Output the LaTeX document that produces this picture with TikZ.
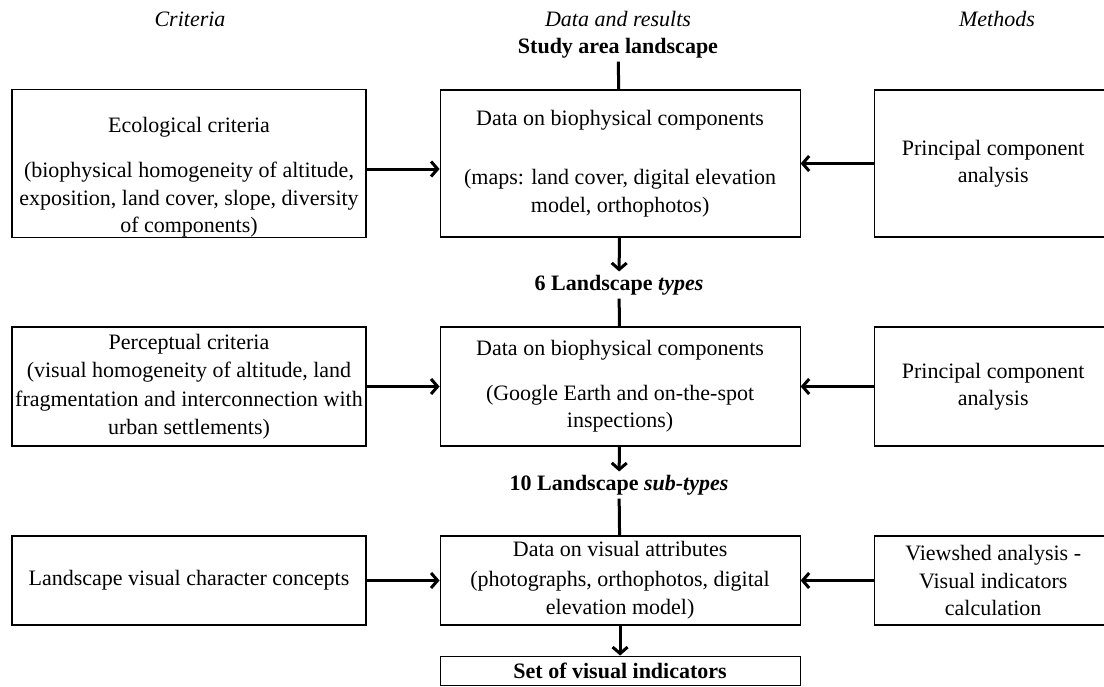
\documentclass[tikz,border=0pt]{standalone}
\usepackage{fontspec}
\setmainfont{Liberation Serif}
\usetikzlibrary{arrows.meta,positioning}

\tikzset{
    box/.style={draw, line width=1.1pt, align=center, inner sep=0pt,
        font=\fontsize{22}{27.5}\selectfont},
    critbox/.style={box, minimum width=354pt},
    databox/.style={box, minimum width=360pt},
    methbox/.style={box, minimum width=238pt},
    colhead/.style={font=\fontsize{22}{26}\selectfont\itshape},
    result/.style={font=\fontsize{22}{26}\selectfont\bfseries},
    flow/.style={line width=3pt, -{Straight Barb[length=6.5pt,width=15pt]}},
    link/.style={line width=3pt},
}

\begin{document}
\begin{tikzpicture}[x=1pt, y=-1pt]
    \useasboundingbox (0,0) rectangle (1104,686) ;

    \node[colhead] (crithead) at (190,19) {Criteria} ;
    \node[colhead] (datahead) at (618,19) {Data and results} ;
    \node[colhead] (methhead) at (997,19) {Methods} ;
    \node[result] (study) at (618,48) {Study area landscape} ;

    \node[critbox, minimum height=147pt] (ecol) at (189,163.5)
        {\rule{0pt}{43pt}Ecological criteria\\[18pt](biophysical homogeneity of altitude,\\exposition, land cover, slope, diversity\\of components)} ;
    \node[databox, minimum height=147pt, right = 73pt of ecol] (biophys)
        {Data on biophysical components\\[32pt](maps: land cover, digital elevation\\model, orthophotos)} ;
    \node[methbox, minimum height=147pt, right = 73pt of biophys] (pcaone)
        {Principal component\\analysis} ;
    \draw[flow] ([yshift=-5.5pt]ecol.east) -- ([yshift=-5.5pt]biophys.west) ;
    \draw[flow] (pcaone) -- (biophys) ;
    \draw[link] (study) -- (biophys) ;

    \node[result] (types) at (619,285) {6 Landscape \textit{types}} ;
    \draw[flow] (biophys) -- (types) ;

    \node[critbox, minimum height=119pt] (percep) at (189,386.5)
        {Perceptual criteria\\[1pt](visual homogeneity of altitude, land\\[1pt]fragmentation and interconnection with\\[1pt]urban settlements)} ;
    \node[databox, minimum height=119pt, right = 73pt of percep] (onspot)
        {Data on biophysical components\\[17pt](Google Earth and on-the-spot\\inspections)} ;
    \node[methbox, minimum height=119pt, right = 73pt of onspot] (pcatwo)
        {Principal component\\analysis} ;
    \draw[flow] (percep) -- (onspot) ;
    \draw[flow] (pcatwo) -- (onspot) ;
    \draw[link] (types) -- (onspot) ;

    \node[result] (subtypes) at (619,485) {10 Landscape \textit{sub-types}} ;
    \draw[flow] (onspot) -- (subtypes) ;

    \node[critbox, minimum height=89pt] (concepts) at (189,580.5)
        {Landscape visual character concepts} ;
    \node[databox, minimum height=89pt, right = 73pt of concepts] (visattr)
        {Data on visual attributes\\[2pt](photographs, orthophotos, digital\\[1pt]elevation model)} ;
    \node[methbox, minimum height=89pt, right = 73pt of visattr] (viewshed)
        {Viewshed analysis -\\Visual indicators\\calculation} ;
    \draw[flow] (concepts) -- (visattr) ;
    \draw[flow] (viewshed) -- (visattr) ;
    \draw[link] (subtypes) -- (visattr) ;

    \node[databox, minimum height=29pt, below = 30pt of visattr, font=\fontsize{22}{26}\selectfont\bfseries] (indic)
        {Set of visual indicators} ;
    \draw[flow] (visattr) -- (indic) ;
\end{tikzpicture}
\end{document}
